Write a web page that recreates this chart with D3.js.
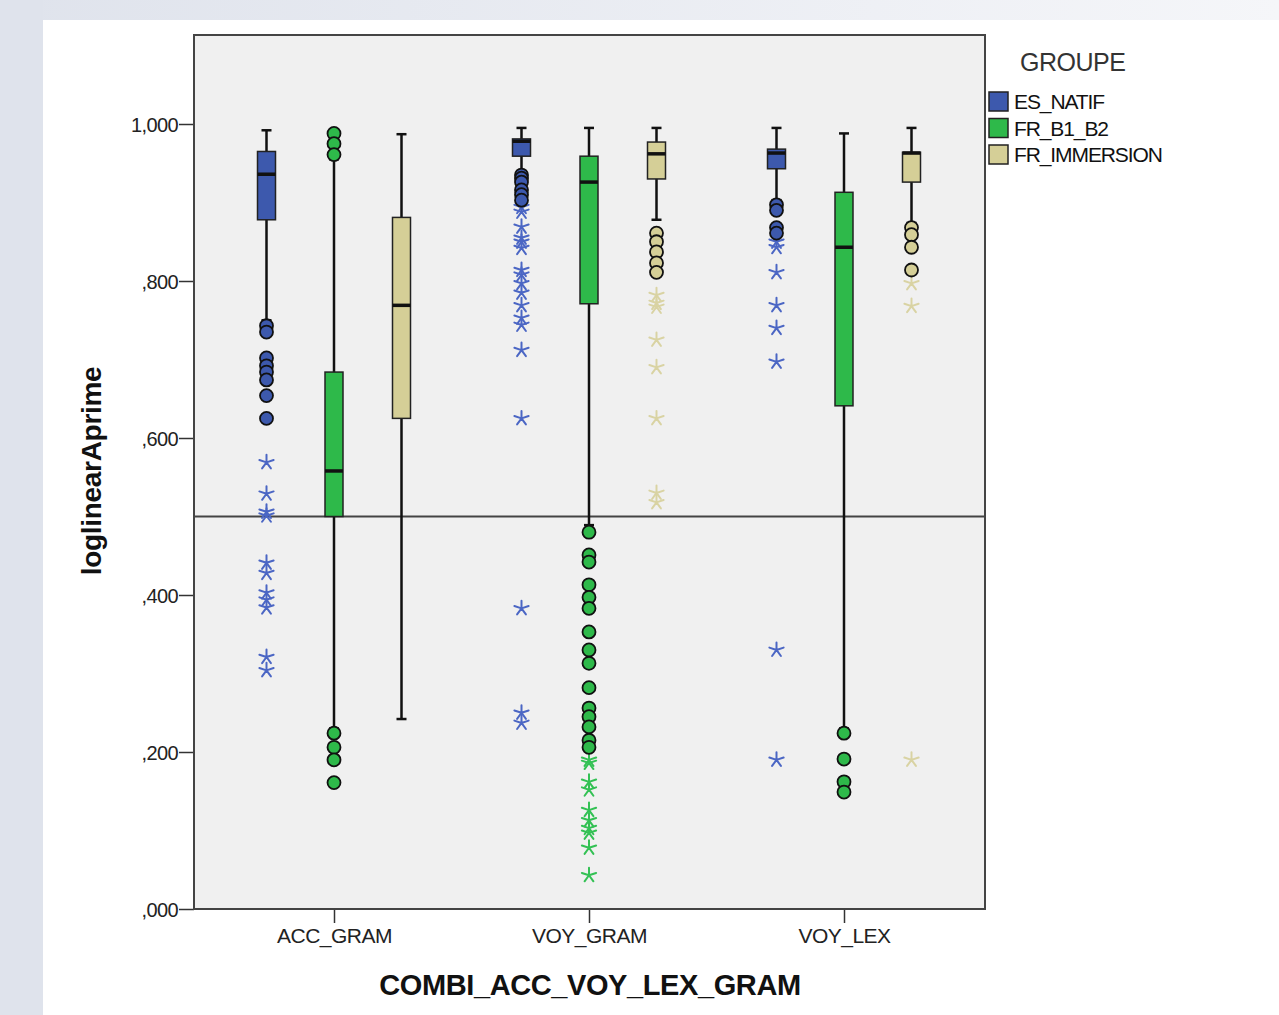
<!DOCTYPE html>
<html>
<head>
<meta charset="utf-8">
<script src="https://cdn.jsdelivr.net/npm/d3@7"></script>
<style>
  html, body { margin: 0; padding: 0; background: #fff; }
  svg { display: block; }
</style>
</head>
<body>
<script>
// categories on the x axis and the three groups
const categories = ["ACC_GRAM", "VOY_GRAM", "VOY_LEX"];
const groups = ["ES_NATIF", "FR_B1_B2", "FR_IMMERSION"];
const groupColors = ["#3d59ad", "#2eb94a", "#d5cf97"];
const starColors = ["#4b66c4", "#33c154", "#d9d3a3"];
const yTicks = [0, 0.2, 0.4, 0.6, 0.8, 1.0];
const yTickLabels = [",000", ",200", ",400", ",600", ",800", "1,000"];

// box stats per category: [lower whisker, q1, median, q3, upper whisker]
const esNatifBoxes = [
    [0.750, 0.878, 0.936, 0.965, 0.992],
    [0.937, 0.959, 0.978, 0.981, 0.995],
    [0.903, 0.943, 0.963, 0.968, 0.995]
];
const frB1B2Boxes = [
    [0.230, 0.500, 0.558, 0.684, 0.955],
    [0.489, 0.771, 0.926, 0.959, 0.995],
    [0.230, 0.641, 0.843, 0.913, 0.988]
];
const frImmersionBoxes = [
    [0.242, 0.625, 0.769, 0.881, 0.987],
    [0.878, 0.930, 0.962, 0.977, 0.995],
    [0.874, 0.926, 0.963, 0.964, 0.995]
];

// outliers (circles) per category
const esNatifOutliers = [
    [0.743, 0.735, 0.702, 0.692, 0.684, 0.674, 0.654, 0.625],
    [0.935, 0.931, 0.926, 0.916, 0.910, 0.903],
    [0.897, 0.890, 0.868, 0.861]
];
const frB1B2Outliers = [
    [0.988, 0.975, 0.961, 0.224, 0.206, 0.190, 0.161],
    [0.480, 0.451, 0.442, 0.413, 0.397, 0.383, 0.353, 0.330, 0.313, 0.282, 0.256, 0.245, 0.232, 0.215, 0.206],
    [0.224, 0.191, 0.162, 0.149]
];
const frImmersionOutliers = [
    [],
    [0.861, 0.850, 0.837, 0.823, 0.811],
    [0.868, 0.859, 0.843, 0.814]
];

// extremes (stars) per category
const esNatifExtremes = [
    [0.569, 0.529, 0.506, 0.501, 0.441, 0.428, 0.403, 0.394, 0.384, 0.321, 0.304],
    [0.894, 0.888, 0.869, 0.855, 0.850, 0.842, 0.814, 0.808, 0.797, 0.785, 0.769, 0.753, 0.744, 0.712, 0.625, 0.383, 0.250, 0.237],
    [0.850, 0.843, 0.811, 0.769, 0.740, 0.697, 0.330, 0.190]
];
const frB1B2Extremes = [
    [],
    [0.190, 0.186, 0.162, 0.152, 0.126, 0.113, 0.103, 0.097, 0.078, 0.043],
    []
];
const frImmersionExtremes = [
    [],
    [0.782, 0.772, 0.767, 0.725, 0.690, 0.625, 0.530, 0.518],
    [0.797, 0.768, 0.190]
];

const boxes = [esNatifBoxes, frB1B2Boxes, frImmersionBoxes];
const outliers = [esNatifOutliers, frB1B2Outliers, frImmersionOutliers];
const extremes = [esNatifExtremes, frB1B2Extremes, frImmersionExtremes];

//-------------------------------------------------------------------------------

var width = 1279, height = 1015;
const plot = { left: 194, right: 985, top: 35, bottom: 909 };

var svg = d3.select('body').append('svg')
    .attr('width', width)
    .attr('height', height)
    .style('font-family', 'Liberation Sans, Arial, sans-serif');

const defs = svg.append('defs');
const grad = defs.append('linearGradient').attr('id', 'topband');
grad.append('stop').attr('offset', '0%').attr('stop-color', '#dfe3ec');
grad.append('stop').attr('offset', '100%').attr('stop-color', '#f5f6f9');

// page background bands
svg.append('rect').attr('width', width).attr('height', 20).attr('fill', 'url(#topband)');
svg.append('rect').attr('width', 43).attr('height', height).attr('fill', '#dfe3ec');

const y = d3.scaleLinear()
    .domain([0, 1])
    .range([plot.bottom, 124]);

// category centres, 255px apart
const xCat = d3.scalePoint()
    .domain(categories)
    .range([plot.left + 140, plot.right - 141]);

const xGroup = d3.scalePoint()
    .domain(groups)
    .range([-67.5, 67.5]);

function cx(ci, gi) {
    return xCat(categories[ci]) + xGroup(groups[gi]);
}

// plot area
svg.append('rect')
    .attr('x', plot.left).attr('y', plot.top)
    .attr('width', plot.right - plot.left)
    .attr('height', plot.bottom - plot.top)
    .attr('fill', '#f0f0f0');

// y axis
const yAxis = d3.axisLeft(y)
    .tickValues(yTicks)
    .tickFormat((d, i) => yTickLabels[i])
    .tickSize(15)
    .tickPadding(1);
const gy = svg.append('g')
    .attr('transform', `translate(${plot.left},0)`)
    .call(yAxis);
gy.select('.domain').remove();
gy.selectAll('line').attr('stroke', '#333').attr('stroke-width', 1.5);
gy.selectAll('text').attr('font-size', 20).attr('fill', '#222')
    .attr('letter-spacing', -0.6).attr('dy', '0.36em');

// x axis
const gx = svg.append('g')
    .attr('transform', `translate(0,${plot.bottom})`)
    .call(d3.axisBottom(xCat).tickSize(14).tickPadding(5));
gx.select('.domain').remove();
gx.selectAll('line').attr('stroke', '#333').attr('stroke-width', 1.5);
gx.selectAll('text').attr('font-size', 21).attr('fill', '#222')
    .attr('letter-spacing', -0.5);

// reference line at .5
svg.append('line')
    .attr('x1', plot.left).attr('x2', plot.right)
    .attr('y1', y(0.5)).attr('y2', y(0.5))
    .attr('stroke', '#444').attr('stroke-width', 2);

const boxW = 18;
const gBoxes = svg.append('g');

boxes.forEach((grp, gi) => {
    grp.forEach((b, ci) => {
        const x0 = cx(ci, gi);
        const g = gBoxes.append('g');
        // whiskers
        g.append('line')
            .attr('x1', x0).attr('x2', x0)
            .attr('y1', y(b[0])).attr('y2', y(b[4]))
            .attr('stroke', '#111').attr('stroke-width', 2.5);
        [b[0], b[4]].forEach(v => {
            g.append('line')
                .attr('x1', x0 - 5).attr('x2', x0 + 5)
                .attr('y1', y(v)).attr('y2', y(v))
                .attr('stroke', '#111').attr('stroke-width', 2.5);
        });
        g.append('rect')
            .attr('x', x0 - boxW / 2).attr('y', y(b[3]))
            .attr('width', boxW).attr('height', Math.max(1, y(b[1]) - y(b[3])))
            .attr('fill', groupColors[gi])
            .attr('stroke', '#222').attr('stroke-width', 1.5);
        g.append('line')
            .attr('x1', x0 - boxW / 2).attr('x2', x0 + boxW / 2)
            .attr('y1', y(b[2])).attr('y2', y(b[2]))
            .attr('stroke', '#111').attr('stroke-width', 3.5);
    });
});

// extremes: 5 arm asterisks
function starPath(r) {
    let p = '';
    for (let k = 0; k < 5; k++) {
        const a = -Math.PI / 2 + k * 2 * Math.PI / 5;
        p += `M0,0L${(r * Math.cos(a)).toFixed(2)},${(r * Math.sin(a)).toFixed(2)}`;
    }
    return p;
}
extremes.forEach((grp, gi) => {
    grp.forEach((vals, ci) => {
        svg.append('g').selectAll('path')
            .data(vals)
            .join('path')
            .attr('d', starPath(7.5))
            .attr('transform', d => `translate(${cx(ci, gi)},${y(d)})`)
            .attr('fill', 'none')
            .attr('stroke', starColors[gi])
            .attr('stroke-width', 2)
            .attr('stroke-linecap', 'round');
    });
});

// outliers: circles
outliers.forEach((grp, gi) => {
    grp.forEach((vals, ci) => {
        svg.append('g').selectAll('circle')
            .data(vals)
            .join('circle')
            .attr('cx', cx(ci, gi))
            .attr('cy', d => y(d))
            .attr('r', 6.5)
            .attr('fill', groupColors[gi])
            .attr('stroke', '#111')
            .attr('stroke-width', 1.8);
    });
});

// frame
svg.append('rect')
    .attr('x', plot.left).attr('y', plot.top)
    .attr('width', plot.right - plot.left)
    .attr('height', plot.bottom - plot.top)
    .attr('fill', 'none')
    .attr('stroke', '#444').attr('stroke-width', 2);

// axis titles
svg.append('text')
    .attr('transform', `translate(101,${471}) rotate(-90)`)
    .attr('text-anchor', 'middle')
    .attr('font-size', 28).attr('font-weight', 'bold').attr('fill', '#111')
    .attr('letter-spacing', -0.3)
    .text('loglinearAprime');

svg.append('text')
    .attr('x', 590).attr('y', 995)
    .attr('text-anchor', 'middle')
    .attr('font-size', 29).attr('font-weight', 'bold').attr('fill', '#111')
    .attr('letter-spacing', -0.4)
    .text('COMBI_ACC_VOY_LEX_GRAM');

// legend
const legend = svg.append('g').attr('transform', 'translate(989,0)');
legend.append('text')
    .attr('x', 31).attr('y', 71)
    .attr('font-size', 25).attr('fill', '#333')
    .attr('letter-spacing', -0.5)
    .text('GROUPE');
groups.forEach((gname, i) => {
    const ly = 92 + i * 26.5;
    legend.append('rect')
        .attr('x', 0).attr('y', ly)
        .attr('width', 19).attr('height', 19)
        .attr('fill', groupColors[i])
        .attr('stroke', '#222').attr('stroke-width', 1.5);
    legend.append('text')
        .attr('x', 25).attr('y', ly + 17)
        .attr('font-size', 21).attr('fill', '#111')
        .attr('letter-spacing', -1.1)
        .text(gname);
});
</script>
</body>
</html>
